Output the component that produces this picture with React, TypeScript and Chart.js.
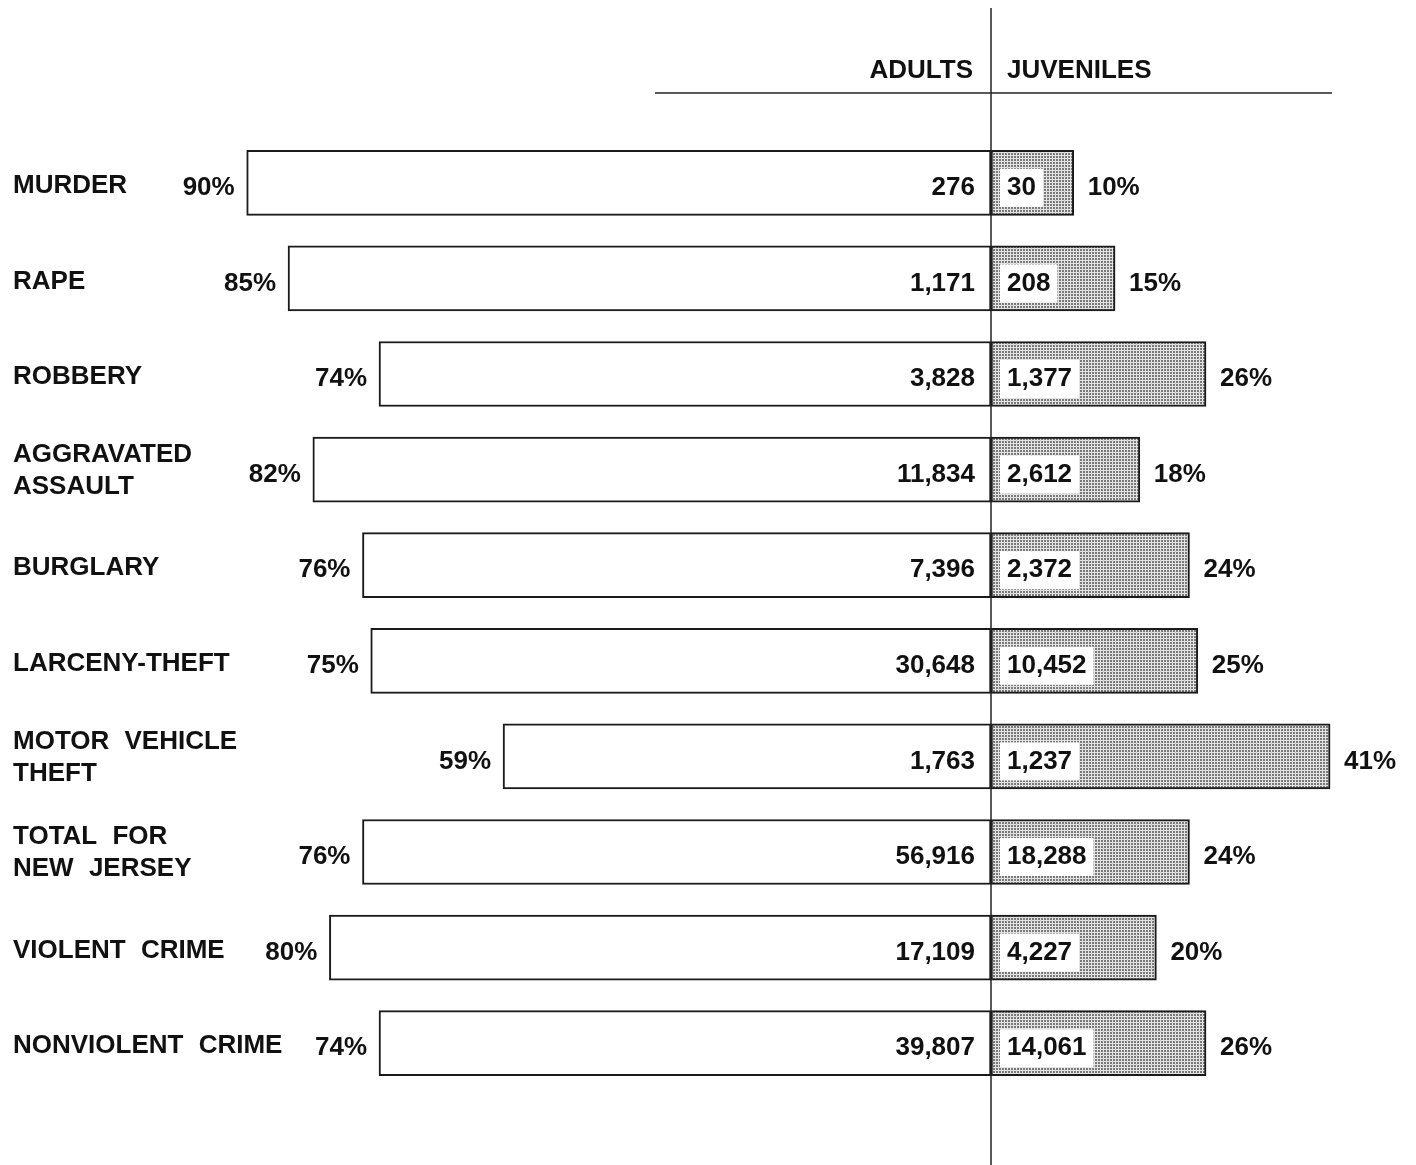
import React, { useEffect, useRef } from "react";
import { Chart, registerables } from "chart.js";

Chart.register(...registerables);

const categories: string[][] = [
  ["MURDER"],
  ["RAPE"],
  ["ROBBERY"],
  ["AGGRAVATED", "ASSAULT"],
  ["BURGLARY"],
  ["LARCENY-THEFT"],
  ["MOTOR VEHICLE", "THEFT"],
  ["TOTAL FOR", "NEW JERSEY"],
  ["VIOLENT CRIME"],
  ["NONVIOLENT CRIME"],
];
const adultPct = [90, 85, 74, 82, 76, 75, 59, 76, 80, 74];
const juvenilePct = [10, 15, 26, 18, 24, 25, 41, 24, 20, 26];
const adultCounts = ["276", "1,171", "3,828", "11,834", "7,396", "30,648", "1,763", "56,916", "17,109", "39,807"];
const juvenileCounts = ["30", "208", "1,377", "2,612", "2,372", "10,452", "1,237", "18,288", "4,227", "14,061"];
const headerLeft = "ADULTS";
const headerRight = "JUVENILES";

const FONT = "bold 26px 'Liberation Sans', Arial, Helvetica, sans-serif";

function makePattern(): CanvasPattern | string {
  const c = document.createElement("canvas");
  c.width = 3;
  c.height = 3;
  const g = c.getContext("2d");
  if (!g) return "#b8b8b8";
  g.fillStyle = "#e2e2e2";
  g.fillRect(0, 0, 3, 3);
  g.fillStyle = "#7a7a7a";
  g.fillRect(0, 0, 2, 2);
  return g.createPattern(c, "repeat") || "#b8b8b8";
}

export default function App() {
  const ref = useRef<HTMLCanvasElement | null>(null);

  useEffect(() => {
    document.body.style.margin = "0";
    const canvas = ref.current;
    if (!canvas) return;
    const pattern = makePattern();

    const labelsPlugin = {
      id: "labelsPlugin",
      afterDatasetsDraw(chart: any) {
        const ctx = chart.ctx as CanvasRenderingContext2D;
        const xs = chart.scales.x;
        const cx = xs.getPixelForValue(0);
        const mA = chart.getDatasetMeta(0);
        const mJ = chart.getDatasetMeta(1);
        ctx.save();
        ctx.font = FONT;
        ctx.fillStyle = "#111";
        ctx.textBaseline = "middle";
        (ctx as any).wordSpacing = "8px";
        mA.data.forEach((el: any, i: number) => {
          const y = el.y;
          const jel = mJ.data[i] as any;
          ctx.textAlign = "left";
          const lines = categories[i];
          if (lines.length === 1) {
            ctx.fillText(lines[0], 13, y + 3);
          } else {
            ctx.fillText(lines[0], 13, y - 15);
            ctx.fillText(lines[1], 13, y + 17);
          }
          ctx.textAlign = "right";
          ctx.fillText(adultPct[i] + "%", el.x - 12, y + 5);
          ctx.fillText(adultCounts[i], cx - 16, y + 5);
          const w = ctx.measureText(juvenileCounts[i]).width;
          ctx.fillStyle = "#ffffff";
          ctx.fillRect(cx + 9, y + 5 - 19, w + 14, 38);
          ctx.fillStyle = "#111";
          ctx.textAlign = "left";
          ctx.fillText(juvenileCounts[i], cx + 16, y + 5);
          ctx.fillText(juvenilePct[i] + "%", jel.x + 14, y + 5);
        });
        ctx.textAlign = "right";
        ctx.fillText(headerLeft, cx - 18, 71);
        ctx.textAlign = "left";
        ctx.fillText(headerRight, cx + 16, 71);
        ctx.strokeStyle = "#222";
        ctx.lineWidth = 1.5;
        ctx.beginPath();
        ctx.moveTo(655, 93);
        ctx.lineTo(1332, 93);
        ctx.stroke();
        ctx.beginPath();
        ctx.moveTo(cx, 8);
        ctx.lineTo(cx, 1165);
        ctx.stroke();
        ctx.restore();
      },
    };

    const chart = new Chart(canvas, {
      type: "bar",
      data: {
        labels: categories.map((c) => c.join(" ")),
        datasets: [
          {
            label: headerLeft,
            data: adultPct.map((v) => -v),
            backgroundColor: "#ffffff",
            borderColor: "#1a1a1a",
            borderWidth: 2,
            borderSkipped: false,
            barThickness: 65,
          },
          {
            label: headerRight,
            data: juvenilePct,
            backgroundColor: pattern as any,
            borderColor: "#1a1a1a",
            borderWidth: 2,
            borderSkipped: false,
            barThickness: 65,
          },
        ],
      },
      options: {
        indexAxis: "y",
        responsive: false,
        animation: false,
        layout: { padding: { top: 135, bottom: 74, left: 0, right: 0 } },
        plugins: {
          legend: { display: false },
          tooltip: { enabled: false },
          title: { display: false },
        },
        scales: {
          x: {
            display: false,
            stacked: true,
            min: -119.83,
            max: 51.39,
          },
          y: {
            display: false,
            stacked: true,
          },
        },
      },
      plugins: [labelsPlugin],
    });
    return () => chart.destroy();
  }, []);

  return (
    <div style={{ position: "absolute", left: 0, top: 0, width: 1416, height: 1165, background: "#fff" }}>
      <canvas ref={ref} width={1416} height={1165} />
    </div>
  );
}
